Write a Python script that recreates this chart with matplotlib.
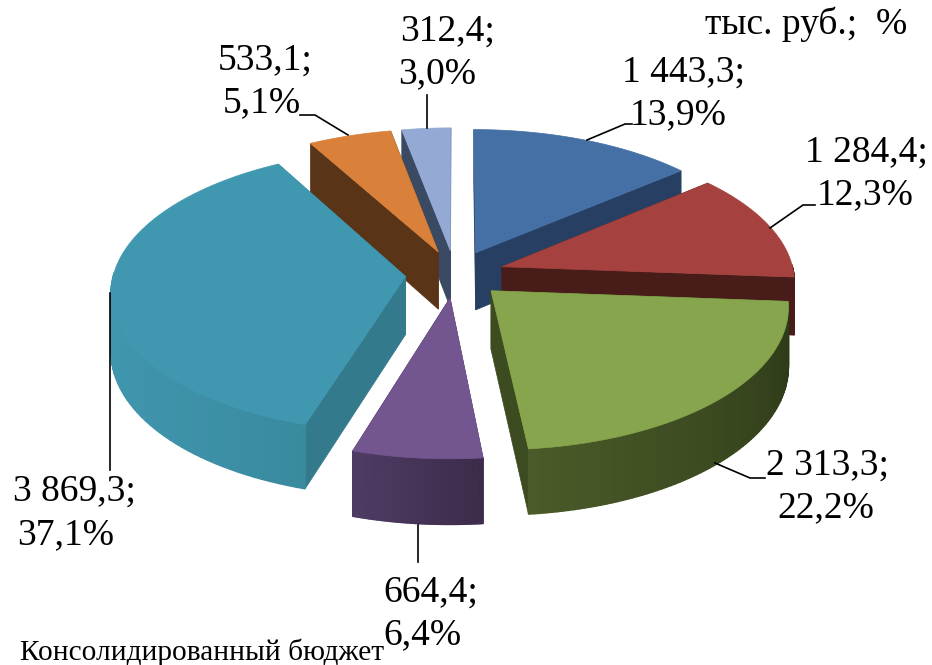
# Exploded 3D pie of the consolidated budget

import numpy as np
import matplotlib
matplotlib.use("Agg")
import matplotlib.pyplot as plt
from matplotlib.colors import to_rgb

values = [1443.3, 1284.4, 2313.3, 664.4, 3869.3, 533.1, 312.4]
value_labels = ["1 443,3;", "1 284,4;", "2 313,3;", "664,4;", "3 869,3;", "533,1;", "312,4;"]
pct_labels = ["13,9%", "12,3%", "22,2%", "6,4%", "37,1%", "5,1%", "3,0%"]
unit_label = "тыс. руб.;  %"
footer_label = "Консолидированный бюджет"

top_colors = ["#4470a5", "#a5423f", "#87a54c", "#735690", "#3f98b0", "#d9813a", "#94aad4"]
cut_colors = ["#263f63", "#481c19", "#3c4b20", "#33264a", "#347a8d", "#5a3416", "#3a4a63"]
wall_light = ["#3a6090", "#8a3532", "#4a5a28", "#4e3c64", "#4097ae", "#a8632c", "#7587a8"]
wall_dark = ["#263f63", "#481c19", "#2b3717", "#3c2b4a", "#2a6a7c", "#5a3416", "#3a4a63"]

# label centres (pixels) and leader lines
label_pos = [(683, 72), (866, 152), (827, 465), (431, 592), (74, 491), (265, 60), (448, 31)]
pct_pos = [(678, 115), (865, 195), (826, 508), (422, 635), (66, 535), (262, 103), (437, 74)]
leaders = [[(587, 140), (625, 124), (632, 124)],
           [(770, 228), (803, 205), (815, 205)],
           [(715, 463), (750, 478), (765, 478)],
           [(418, 525), (418, 562)],
           [(110, 293), (110, 470)],
           [(348, 135), (315, 115), (300, 115)],
           [(427, 128), (427, 95)]]

CX, CY = 455, 274
R = 292
TILT = 0.478
PERSP = 0.10
DEPTH = 58
EXPLODE = 0.17


def project(x, y, z=0.0):
    s = 1 / (1 + PERSP * y)
    return CX + R * x * s, CY - R * TILT * y * s + z * s


def draw_slice(ax, a0, a1, i, z):
    mid = (a0 + a1) / 2
    ox, oy = EXPLODE * np.sin(mid), EXPLODE * np.cos(mid)
    th = np.linspace(a0, a1, 80)
    xs = ox + np.sin(th)
    ys = oy + np.cos(th)
    apex = project(ox, oy)
    apex_low = project(ox, oy, DEPTH)

    # cut faces, the one further back first
    for a in sorted([a0, a1], key=lambda t: -np.cos(t)):
        ex, ey = ox + np.sin(a), oy + np.cos(a)
        pts = [apex, project(ex, ey), project(ex, ey, DEPTH), apex_low]
        ax.fill(*zip(*pts), color=cut_colors[i], lw=0.5, zorder=z)

    # outer wall, shaded in strips from left to right
    lo, hi = np.array(to_rgb(wall_light[i])), np.array(to_rgb(wall_dark[i]))
    for k in range(len(th) - 1):
        if np.cos(th[k]) > 0.02:
            continue
        p1, p2 = project(xs[k], ys[k]), project(xs[k + 1], ys[k + 1])
        p3, p4 = project(xs[k + 1], ys[k + 1], DEPTH), project(xs[k], ys[k], DEPTH)
        if i in (2, 3):
            t = 1 - k / (len(th) - 2)
        else:
            t = np.clip((p1[0] - 100) / 700, 0, 1)
        ax.fill(*zip(p1, p2, p3, p4), color=lo + (hi - lo) * t, lw=1, zorder=z)

    # top face
    top = [apex] + [project(x, y) for x, y in zip(xs, ys)]
    ax.fill(*zip(*top), color=top_colors[i], lw=0.5, zorder=z)


fig = plt.figure(figsize=(9.32, 6.65), dpi=100)
ax = fig.add_axes([0, 0, 1, 1])
ax.set_xlim(0, 932)
ax.set_ylim(665, 0)
ax.axis("off")
plt.rcParams["font.family"] = ["Liberation Serif", "DejaVu Sans"]

fractions = np.array(values) / sum(values)
edges = np.concatenate([[0], np.cumsum(fractions)]) * 2 * np.pi
mids = (edges[:-1] + edges[1:]) / 2

# paint the slices from back to front
order = np.argsort(-np.cos(mids))
for z, i in enumerate(order):
    draw_slice(ax, edges[i], edges[i + 1], i, z + 1)

for line in leaders:
    ax.plot(*zip(*line), color="black", lw=1.2, zorder=20)

for i in range(len(values)):
    ax.text(*label_pos[i], value_labels[i], fontsize=27, ha="center", va="center", zorder=21)
    ax.text(*pct_pos[i], pct_labels[i], fontsize=27, ha="center", va="center", zorder=21)

ax.text(806, 24, unit_label, fontsize=27, ha="center", va="center", zorder=21)
ax.text(20, 652, footer_label, fontsize=21.2, ha="left", va="center", zorder=21)

fig.savefig("out.png", dpi=100)
